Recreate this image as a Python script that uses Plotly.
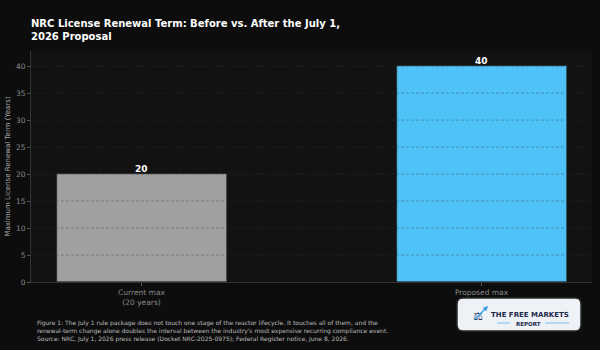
import plotly.graph_objects as go

categories = ["Current max<br>(20 years)", "Proposed max"]
values = [20, 40]
bar_colors = ["#a0a0a0", "#4fc3f7"]
value_labels = ["20", "40"]
y_ticks = [0, 5, 10, 15, 20, 25, 30, 35, 40]

title_text = "<b>NRC License Renewal Term: Before vs. After the July 1,<br>2026 Proposal</b>"
y_title = "Maximum License Renewal Term (Years)"
caption_lines = [
    "Figure 1: The July 1 rule package does not touch one stage of the reactor lifecycle. It touches all of them, and the",
    "renewal-term change alone doubles the interval between the industry's most expensive recurring compliance event.",
    "Source: NRC, July 1, 2026 press release (Docket NRC-2025-0975); Federal Register notice, June 8, 2026.",
]

W, H = 600, 350
L, R, T, B = 31, 8, 51, 68
pw, ph = W - L - R, H - T - B

def px(x):
    return (x - L) / pw

def py(y):
    return (H - B - y) / ph

FONT = "DejaVu Sans"

fig = go.Figure()
fig.add_trace(go.Bar(
    x=[0, 1], y=values, width=0.5,
    marker=dict(color=bar_colors, line=dict(color="#222222", width=0.6)),
    hoverinfo="skip",
))

shapes = []
for t in y_ticks[1:]:
    shapes.append(dict(type="line", xref="paper", yref="y", x0=0, x1=1, y0=t, y1=t,
                       line=dict(color="rgba(55,55,55,0.45)", width=0.8, dash="3px,2px"),
                       layer="above"))

# logo box (rounded)
x0, x1, y0, y1, r = px(457), px(581), py(298), py(331), 6
rx, ry = r / pw, r / ph
path = (f"M {x0+rx},{y0} L {x1-rx},{y0} Q {x1},{y0} {x1},{y0-ry} "
        f"L {x1},{y1+ry} Q {x1},{y1} {x1-rx},{y1} L {x0+rx},{y1} "
        f"Q {x0},{y1} {x0},{y1+ry} L {x0},{y0-ry} Q {x0},{y0} {x0+rx},{y0} Z")
shapes.append(dict(type="path", xref="paper", yref="paper", path=path,
                   fillcolor="#eef1f6", line=dict(color="#2a2a2a", width=1.5), layer="above"))
# lines around REPORT
for a, b in [(497, 510), (545, 569)]:
    shapes.append(dict(type="line", xref="paper", yref="paper", x0=px(a), x1=px(b),
                       y0=py(323), y1=py(323), line=dict(color="#8cc8f0", width=1.2), layer="above"))

annotations = [
    dict(x=px(29), y=py(30.5), xref="paper", yref="paper", text=title_text, showarrow=False,
         xanchor="left", yanchor="middle", align="left",
         font=dict(color="white", size=10, family=FONT)),
    dict(x=px(35), y=py(331), xref="paper", yref="paper", text="<br>".join(caption_lines),
         showarrow=False, xanchor="left", yanchor="middle", align="left",
         font=dict(color="#bbbbbb", size=6, family=FONT)),
    dict(x=px(530), y=py(315), xref="paper", yref="paper", text="<b>THE FREE MARKETS</b>",
         showarrow=False, xanchor="center", yanchor="middle",
         font=dict(color="#1b2a4a", size=7, family=FONT)),
    dict(x=px(528), y=py(323.5), xref="paper", yref="paper", text="<b>REPORT</b>",
         showarrow=False, xanchor="center", yanchor="middle",
         font=dict(color="#1b2a4a", size=5.5, family=FONT)),
    dict(x=px(478), y=py(316), xref="paper", yref="paper", text="⚖",
         showarrow=False, xanchor="center", yanchor="middle",
         font=dict(color="#1b2a4a", size=11, family=FONT)),
    dict(x=px(488), y=py(306), ax=-15, ay=15, xref="paper", yref="paper",
         axref="pixel", ayref="pixel", text="", showarrow=True, arrowhead=2,
         arrowsize=0.7, arrowwidth=1.4, arrowcolor="#3aa0e8"),
]
for i, (v, lab) in enumerate(zip(values, value_labels)):
    annotations.append(dict(x=i, y=v, xref="x", yref="y", text=f"<b>{lab}</b>", showarrow=False,
                            xanchor="center", yanchor="bottom", yshift=-2,
                            font=dict(color="white", size=9, family=FONT)))

fig.update_layout(
    width=W, height=H,
    margin=dict(l=L, r=R, t=T, b=B),
    paper_bgcolor="#0d0d0d", plot_bgcolor="#121212",
    showlegend=False, bargap=0,
    font=dict(family=FONT, color="#888888", size=8),
    shapes=shapes, annotations=annotations,
    xaxis=dict(range=[-0.325, 1.325], tickmode="array", tickvals=[0, 1], ticktext=categories,
               showgrid=False, zeroline=False, showline=True, linecolor="#333333", linewidth=1,
               ticks="outside", ticklen=3, tickcolor="#555555",
               tickfont=dict(color="#888888", size=7.5, family=FONT), fixedrange=True),
    yaxis=dict(range=[0, 42.8], tickmode="array", tickvals=y_ticks,
               showgrid=False,
               zeroline=False, showline=True, linecolor="#333333", linewidth=1,
               ticks="outside", ticklen=3, tickcolor="#555555",
               tickfont=dict(color="#888888", size=7.5, family=FONT),
               title=dict(text=y_title, font=dict(color="#aaaaaa", size=7, family=FONT), standoff=4),
               fixedrange=True),
)

fig.write_html("out.html")
